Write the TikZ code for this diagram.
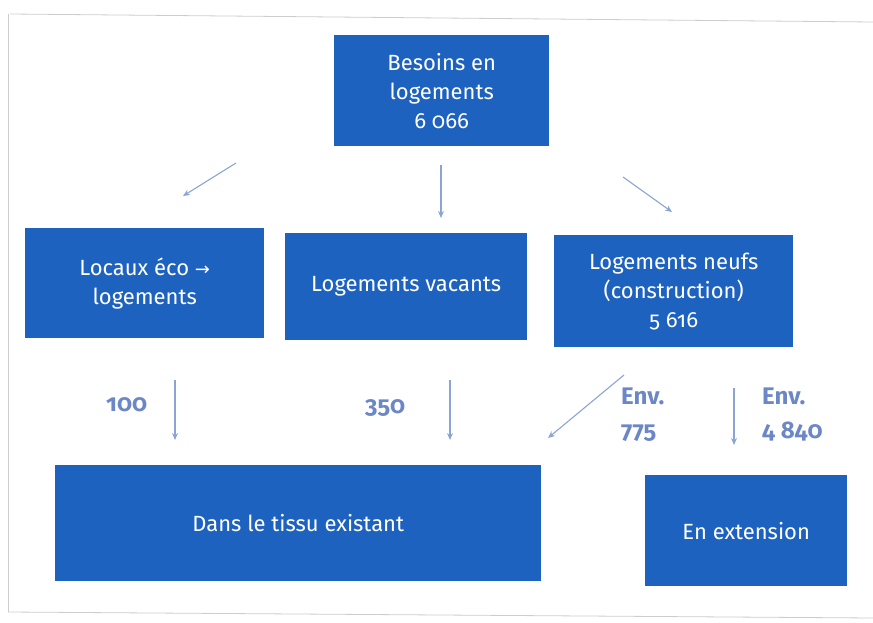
\documentclass[tikz,border=0pt]{standalone}
\usepackage{fontspec}
\setmainfont{Fira Sans}[Numbers=OldStyle]
\newfontfamily\symfont{DejaVu Sans}
\usetikzlibrary{arrows.meta}
\definecolor{boxblue}{RGB}{30,98,192}
\definecolor{arrowblue}{RGB}{140,164,210}
\definecolor{labelblue}{RGB}{108,135,198}
\definecolor{framegray}{RGB}{205,205,205}
\tikzset{
  bluebox/.style={fill=boxblue, draw=none, text=white, font=\fontsize{22}{29}\selectfont, align=center, anchor=north west, inner sep=0pt},
  arr/.style={draw=arrowblue, line width=1.1pt, -{Stealth[length=7pt,width=6pt]}},
  lbl/.style={text=labelblue, font=\fontsize{24}{34}\selectfont\bfseries, align=left, inner sep=0pt}
}
\begin{document}
\begin{tikzpicture}[x=1pt,y=-1pt]
\useasboundingbox (0,0) rectangle (873,623);
% faint scan frame
\draw[framegray, line width=0.8pt] (10,14) -- (873,22);
\draw[framegray, line width=0.8pt] (8,14) -- (8,612);
\draw[framegray, line width=0.8pt] (8,612) -- (873,618);
% boxes
\node[bluebox, minimum width=215pt, minimum height=111pt] (top) at (334,35) {Besoins en\\logements\\6 066};
\node[bluebox, minimum width=239pt, minimum height=110pt] (loc) at (25,228) {Locaux éco {\symfont\fontsize{18}{18}\selectfont →}\\logements};
\node[bluebox, minimum width=242pt, minimum height=107pt] (vac) at (285,233) {Logements vacants};
\node[bluebox, minimum width=239pt, minimum height=112pt] (neu) at (554,235) {Logements neufs\\(construction)\\5 616};
\node[bluebox, minimum width=486pt, minimum height=116pt] (tis) at (55,465) {Dans le tissu existant};
\node[bluebox, minimum width=202pt, minimum height=111pt] (ext) at (645,475) {En extension};
% arrow endpoints
\coordinate (a1s) at (236,163); \coordinate (a1e) at (183,196);
\coordinate (a2s) at (441,165); \coordinate (a2e) at (441,218);
\coordinate (a3s) at (623,177); \coordinate (a3e) at (672,212);
\coordinate (b1s) at (175,380); \coordinate (b1e) at (175,440);
\coordinate (b2s) at (450,380); \coordinate (b2e) at (450,440);
\coordinate (b3s) at (624,375); \coordinate (b3e) at (548,438);
\coordinate (b4s) at (734,388); \coordinate (b4e) at (734,445);
\draw[arr] (a1s) -- (a1e);
\draw[arr] (a2s) -- (a2e);
\draw[arr] (a3s) -- (a3e);
\draw[arr] (b1s) -- (b1e);
\draw[arr] (b2s) -- (b2e);
\draw[arr] (b3s) -- (b3e);
\draw[arr] (b4s) -- (b4e);
% labels
\node[lbl, anchor=west] (l100) at (106,405) {100};
\node[lbl, anchor=west] (l350) at (365,408) {350};
\node[lbl, anchor=west] (l775) at (621,415) {Env.\\775};
\node[lbl, anchor=west] (l4840) at (762,415) {Env.\\4 840};
\end{tikzpicture}
\end{document}
